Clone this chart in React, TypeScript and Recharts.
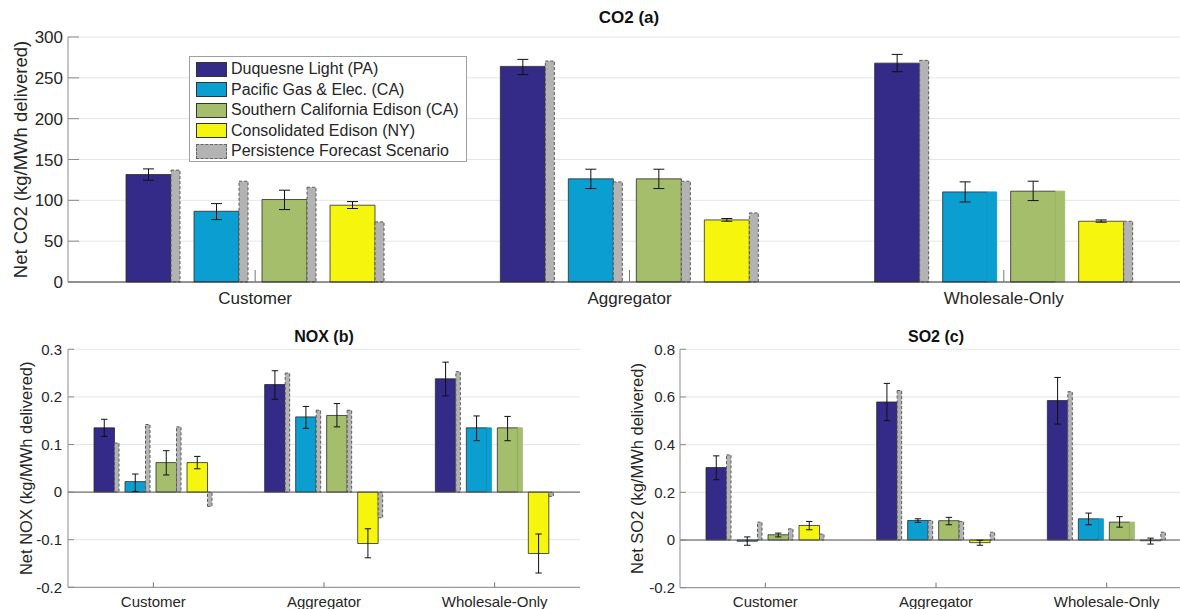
import React from "react";
import {
  BarChart,
  Bar,
  XAxis,
  YAxis,
  CartesianGrid,
  ErrorBar,
  ReferenceLine,
  Cell,
} from "recharts";

const categories = ["Customer", "Aggregator", "Wholesale-Only"];
const utilities = [
  "Duquesne Light (PA)",
  "Pacific Gas & Elec. (CA)",
  "Southern California Edison (CA)",
  "Consolidated Edison (NY)",
];
const colors = ["#342a88", "#0a9fd0", "#a4be6b", "#f6f50e"];
const persistenceLabel = "Persistence Forecast Scenario";

// rows = utility, columns = category. null persistence = same as the main bar
const co2Mean = [[131.6, 264, 268], [86.6, 126.3, 110.3], [101, 126.3, 111.2], [94, 76, 74.4]];
const co2Low = [[124.6, 254, 257.5], [76.4, 114.4, 98], [88.7, 114.4, 99.7], [90, 74.4, 73.2]];
const co2High = [[138.5, 272.6, 278.7], [96, 138.1, 122.6], [112.4, 138.1, 123.4], [98.5, 77.7, 76]];
const co2Persist = [[137, 270.6, 271.4], [123.4, 122.6, null], [116, 123.4, null], [73.6, 84.6, 74.4]];
const co2Ticks = [0, 50, 100, 150, 200, 250, 300];

const noxMean = [[0.135, 0.226, 0.238], [0.022, 0.158, 0.135], [0.062, 0.161, 0.135], [0.062, -0.108, -0.129]];
const noxLow = [[0.117, 0.195, 0.202], [0.001, 0.134, 0.108], [0.036, 0.137, 0.108], [0.049, -0.138, -0.17]];
const noxHigh = [[0.153, 0.255, 0.273], [0.038, 0.18, 0.16], [0.087, 0.186, 0.159], [0.075, -0.077, -0.088]];
const noxPersist = [[0.103, 0.25, 0.253], [0.142, 0.172, null], [0.137, 0.172, null], [-0.03, -0.054, -0.009]];
const noxTicks = [-0.2, -0.1, 0, 0.1, 0.2, 0.3];

const so2Mean = [[0.304, 0.579, 0.585], [-0.005, 0.082, 0.089], [0.022, 0.081, 0.075], [0.061, -0.011, -0.003]];
const so2Low = [[0.253, 0.501, 0.486], [-0.022, 0.074, 0.064], [0.013, 0.064, 0.054], [0.043, -0.022, -0.017]];
const so2High = [[0.353, 0.657, 0.682], [0.013, 0.089, 0.113], [0.029, 0.095, 0.098], [0.078, -0.001, 0.008]];
const so2Persist = [[0.357, 0.627, 0.622], [0.075, 0.082, null], [0.047, 0.078, null], [0.025, 0.033, 0.033]];
const so2Ticks = [-0.2, 0, 0.2, 0.4, 0.6, 0.8];

const FONT = "'Liberation Sans', Arial, Helvetica, sans-serif";
const TEXT = "#262626";
const PERSIST_FILL = "#b3b3b3";

function buildRows(mean: number[][], low: number[][], high: number[][], persist: (number | null)[][]) {
  return categories.map((cat, j) => {
    const row: any = { cat };
    utilities.forEach((_, i) => {
      const m = mean[i][j];
      const p = persist[i][j];
      row[`v${i}`] = m;
      row[`e${i}`] = [m - low[i][j], high[i][j] - m];
      row[`p${i}`] = p === null ? m : p;
      row[`same${i}`] = p === null;
    });
    return row;
  });
}

type PanelProps = {
  rows: any[];
  ticks: number[];
  yLabel: string;
  left: number;
  top: number;
  width: number;
  height: number;
  margin: { top: number; right: number; bottom: number; left: number };
  yWidth: number;
  xHeight: number;
  yLabelOffset: number;
  yLabelSize: number;
  mainSize: number;
  persistSize: number;
  gapSize: number;
  cap: number;
  fontSize: number;
  xTickLen: number;
  xTickMargin: number;
  yTickLen: number;
  yTickMargin: number;
  zeroLine: boolean;
  xAxisColor: string;
};

function Panel(p: PanelProps) {
  return (
    <div style={{ position: "absolute", left: p.left, top: p.top }}>
      <BarChart
        width={p.width}
        height={p.height}
        data={p.rows}
        margin={p.margin}
        barGap={0}
        barCategoryGap={0}
      >
        <CartesianGrid horizontal vertical={false} stroke="#e6e6e6" />
        <XAxis
          dataKey="cat"
          height={p.xHeight}
          tickSize={-p.xTickLen}
          tickMargin={p.xTickMargin}
          axisLine={{ stroke: p.xAxisColor }}
          tickLine={{ stroke: "#777" }}
          tick={{ fill: TEXT, fontSize: p.fontSize }}
          interval={0}
        />
        <YAxis
          type="number"
          domain={[p.ticks[0], p.ticks[p.ticks.length - 1]]}
          ticks={p.ticks}
          width={p.yWidth}
          tickSize={-p.yTickLen}
          tickMargin={p.yTickMargin}
          axisLine={{ stroke: "#8a8a8a" }}
          tickLine={{ stroke: "#8a8a8a" }}
          tick={{ fill: TEXT, fontSize: p.fontSize }}
          tickFormatter={(v: number) => String(v)}
          label={{
            value: p.yLabel,
            angle: -90,
            position: "insideLeft",
            offset: p.yLabelOffset,
            style: { textAnchor: "middle", fill: TEXT, fontSize: p.yLabelSize },
          }}
        />
        {p.zeroLine && <ReferenceLine y={0} stroke="#555" strokeWidth={1} />}
        {utilities.map((u, i) => [
          <Bar
            key={`v${i}`}
            dataKey={`v${i}`}
            name={u}
            barSize={p.mainSize}
            fill={colors[i]}
            stroke="#2b2b2b"
            strokeWidth={0.8}
            isAnimationActive={false}
          >
            <ErrorBar dataKey={`e${i}`} width={p.cap} stroke="#111" strokeWidth={1} direction="y" />
          </Bar>,
          <Bar
            key={`p${i}`}
            dataKey={`p${i}`}
            name={persistenceLabel}
            barSize={p.persistSize}
            fill={PERSIST_FILL}
            isAnimationActive={false}
          >
            {p.rows.map((r, j) => (
              <Cell
                key={j}
                fill={r[`same${i}`] ? colors[i] : PERSIST_FILL}
                stroke={r[`same${i}`] ? colors[i] : "#5a5a5a"}
                strokeDasharray={r[`same${i}`] ? undefined : "3 2"}
                strokeWidth={1}
              />
            ))}
          </Bar>,
          i < utilities.length - 1 ? (
            <Bar
              key={`s${i}`}
              dataKey={`s${i}`}
              barSize={p.gapSize}
              fill="none"
              isAnimationActive={false}
            />
          ) : null,
        ])}
      </BarChart>
    </div>
  );
}

function Legend() {
  const items = utilities.map((u, i) => ({ label: u, color: colors[i], dashed: false }));
  items.push({ label: persistenceLabel, color: PERSIST_FILL, dashed: true });
  return (
    <div
      style={{
        position: "absolute",
        left: 189,
        top: 56,
        width: 278,
        height: 106,
        border: "1px solid #a0a0a0",
        background: "#fff",
        boxSizing: "border-box",
        paddingTop: 2,
      }}
    >
      {items.map((it) => (
        <div key={it.label} style={{ display: "flex", alignItems: "center", height: 20.5 }}>
          <div
            style={{
              marginLeft: 6,
              width: 31,
              height: 15,
              boxSizing: "border-box",
              background: it.color,
              border: it.dashed ? "1.5px dashed #666" : "1px solid #333",
            }}
          />
          <span style={{ marginLeft: 4, fontSize: 16, color: TEXT, whiteSpace: "nowrap" }}>{it.label}</span>
        </div>
      ))}
    </div>
  );
}

function Title({ text, x, y, size }: { text: string; x: number; y: number; size: number }) {
  return (
    <div
      style={{
        position: "absolute",
        left: x - 100,
        top: y - size * 0.6,
        width: 200,
        textAlign: "center",
        fontWeight: "bold",
        fontSize: size,
        lineHeight: `${size * 1.2}px`,
        color: "#111",
      }}
    >
      {text}
    </div>
  );
}

export default function App() {
  const co2Rows = buildRows(co2Mean, co2Low, co2High, co2Persist);
  const noxRows = buildRows(noxMean, noxLow, noxHigh, noxPersist);
  const so2Rows = buildRows(so2Mean, so2Low, so2High, so2Persist);
  return (
    <div
      style={{
        position: "fixed",
        left: 0,
        top: 0,
        width: 1180,
        height: 609,
        overflow: "hidden",
        background: "#fff",
        fontFamily: FONT,
      }}
    >
      <Panel
        rows={co2Rows}
        ticks={co2Ticks}
        yLabel="Net CO2 (kg/MWh delivered)"
        left={0}
        top={0}
        width={1200}
        height={320}
        margin={{ top: 37, right: 9, bottom: 0, left: 0 }}
        yWidth={68}
        xHeight={38}
        yLabelOffset={20}
        yLabelSize={18.5}
        mainSize={45}
        persistSize={9}
        gapSize={14}
        cap={5.5}
        fontSize={17}
        xTickLen={12}
        xTickMargin={22}
        yTickLen={11}
        yTickMargin={16}
        zeroLine={false}
        xAxisColor="#333"
      />
      <Panel
        rows={noxRows}
        ticks={noxTicks}
        yLabel="Net NOX (kg/MWh delivered)"
        left={0}
        top={320}
        width={600}
        height={289}
        margin={{ top: 29.3, right: 20, bottom: 0, left: 0 }}
        yWidth={68}
        xHeight={21.7}
        yLabelOffset={26}
        yLabelSize={16.5}
        mainSize={20.5}
        persistSize={4.5}
        gapSize={6}
        cap={3.2}
        fontSize={15}
        xTickLen={5}
        xTickMargin={14}
        yTickLen={6}
        yTickMargin={12}
        zeroLine
        xAxisColor="#8a8a8a"
      />
      <Panel
        rows={so2Rows}
        ticks={so2Ticks}
        yLabel="Net SO2 (kg/MWh delivered)"
        left={590}
        top={320}
        width={620}
        height={289}
        margin={{ top: 29.3, right: 18, bottom: 0, left: 0 }}
        yWidth={90}
        xHeight={21.3}
        yLabelOffset={47}
        yLabelSize={16.5}
        mainSize={20.5}
        persistSize={4.5}
        gapSize={6}
        cap={3.2}
        fontSize={15}
        xTickLen={5}
        xTickMargin={14}
        yTickLen={6}
        yTickMargin={11}
        zeroLine
        xAxisColor="#8a8a8a"
      />
      <Legend />
      <Title text="CO2 (a)" x={629} y={18} size={17} />
      <Title text="NOX (b)" x={324} y={337} size={16} />
      <Title text="SO2 (c)" x={936} y={337} size={16} />
    </div>
  );
}
